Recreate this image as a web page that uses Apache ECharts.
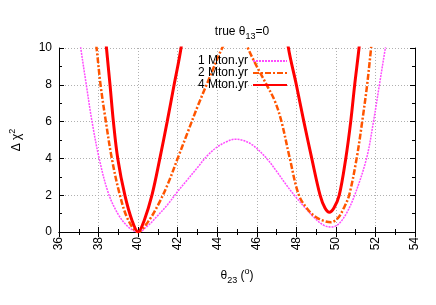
<!DOCTYPE html>
<html>
<head>
<meta charset="utf-8">
<script src="https://cdn.jsdelivr.net/npm/echarts@6/dist/echarts.min.js"></script>
<style>html,body{margin:0;padding:0;background:#fff}#c{width:436px;height:305px}</style>
</head>
<body>
<div id="c"></div>
<script>
// ---- data ----
var xTicks = [36, 38, 40, 42, 44, 46, 48, 50, 52, 54];
var yTicks = [0, 2, 4, 6, 8, 10];
var seriesNames = ['1 Mton.yr', '2 Mton.yr', '4 Mton.yr'];

var theta1 = [36.95, 37.1, 37.38, 37.67, 38.03, 38.5, 39.0, 39.5, 40.0, 40.5, 41.0, 41.5, 42.0, 42.5, 43.0, 43.5, 44.0, 44.5, 44.9, 45.3, 45.8, 46.5, 47.0, 47.5, 47.9, 48.5, 49.0, 49.4, 49.75, 50.1, 50.5, 50.95, 51.55, 51.9, 52.2, 52.5, 52.65];
var chi1   = [11.2, 10.0, 8.0, 6.0, 4.0, 2.1, 0.95, 0.28, 0.0, 0.35, 0.9, 1.5, 2.2, 2.85, 3.5, 4.15, 4.62, 4.92, 5.04, 4.98, 4.72, 4.0, 3.3, 2.55, 2.0, 1.25, 0.68, 0.36, 0.27, 0.4, 0.95, 2.0, 4.0, 6.0, 8.0, 10.0, 11.0];

var theta2 = [37.8, 37.9, 38.1, 38.37, 38.67, 39.08, 39.5, 40.0, 40.5, 41.0, 41.5, 42.0, 42.5, 43.0, 43.5, 44.25, 44.6, 45.0, 45.4, 45.55, 46.0, 46.5, 46.92, 47.25, 47.67, 48.13, 48.6, 49.0, 49.4, 49.75, 50.1, 50.4, 50.67, 51.05, 51.33, 51.58, 51.78, 51.88];
var chi2   = [10.8, 10.0, 8.0, 6.0, 4.0, 2.0, 0.65, 0.0, 0.55, 1.45, 2.6, 4.0, 5.4, 6.8, 8.1, 10.0, 10.6, 10.85, 10.5, 10.0, 9.0, 8.0, 7.1, 6.0, 4.0, 2.0, 1.2, 0.8, 0.6, 0.53, 0.75, 1.3, 2.0, 4.0, 6.0, 8.0, 10.0, 11.0];

var theta4a = [38.33, 38.4, 38.58, 38.75, 38.97, 39.33, 39.7, 40.0, 40.3, 40.7, 41.1, 41.47, 41.82, 42.17, 42.25];
var chi4a   = [11.0, 10.0, 8.0, 6.0, 4.0, 2.0, 0.6, 0.0, 0.6, 2.0, 4.0, 6.0, 8.0, 10.0, 11.0];
var theta4b = [47.52, 47.6, 48.0, 48.38, 48.78, 49.2, 49.45, 49.67, 49.9, 50.17, 50.5, 50.75, 50.95, 51.17, 51.25];
var chi4b   = [11.0, 10.0, 8.0, 6.0, 4.0, 2.0, 1.3, 1.07, 1.3, 2.0, 4.0, 6.0, 8.0, 10.0, 11.0];

function pairs(xs, ys) { return xs.map(function (x, i) { return [x, ys[i]]; }); }
var data4 = pairs(theta4a, chi4a).concat([[45, 30]]).concat(pairs(theta4b, chi4b));

var FONT = 'Liberation Sans, Arial, sans-serif';
var chart = echarts.init(document.getElementById('c'), null, {renderer: 'canvas'});

var gridLine = {show: true, lineStyle: {color: '#b0b0b0', width: 1, type: [1, 2]}};
function rich(size) {
  return {
    a: {fontFamily: FONT, fontSize: size, fontWeight: 'normal', color: '#000', lineHeight: 18},
    s: {fontFamily: FONT, fontSize: 9, fontWeight: 'normal', color: '#000', lineHeight: 9, verticalAlign: 'bottom'},
    p: {fontFamily: FONT, fontSize: 9, fontWeight: 'normal', color: '#000', lineHeight: 9, verticalAlign: 'top'}
  };
}
var option = {
  backgroundColor: '#fff',
  animation: false,
  title: {
    text: '{a|true θ}{s|13}{a|=0}',
    left: 242, top: 23, textAlign: 'center', padding: 0,
    textStyle: {fontWeight: 'normal', rich: rich(12)}
  },
  legend: {
    orient: 'vertical', right: 148, top: 55, align: 'right', padding: 0,
    itemWidth: 34, itemHeight: 10, itemGap: 0,
    itemStyle: {opacity: 0},
    textStyle: {fontFamily: FONT, fontSize: 12, lineHeight: 11.5, color: '#000'},
    data: seriesNames
  },
  grid: {left: 55, right: 21, top: 48, bottom: 73, containLabel: false},
  xAxis: [{
    type: 'value', min: xTicks[0], max: xTicks[xTicks.length - 1], interval: 2,
    position: 'bottom',
    axisLine: {show: true, onZero: false, lineStyle: {color: '#000', width: 1}},
    axisTick: {show: true, inside: true, length: 5, lineStyle: {color: '#000'}},
    minorTick: {show: true, splitNumber: 2, length: 3, lineStyle: {color: '#000'}},
    axisLabel: {rotate: 90, fontFamily: FONT, fontSize: 12, color: '#000', margin: 5},
    splitLine: gridLine,
    name: '{a|θ}{s|23}{a| (}{p|o}{a|)}',
    nameLocation: 'middle', nameGap: 35,
    nameTextStyle: {rich: rich(12)}
  }, {
    type: 'value', min: xTicks[0], max: xTicks[xTicks.length - 1], interval: 2,
    position: 'top',
    axisLine: {show: true, lineStyle: {color: '#000', width: 1}},
    axisTick: {show: true, inside: true, length: 5, lineStyle: {color: '#000'}},
    minorTick: {show: true, splitNumber: 2, length: 3, lineStyle: {color: '#000'}},
    axisLabel: {show: false}, splitLine: {show: false}
  }],
  yAxis: [{
    type: 'value', min: yTicks[0], max: yTicks[yTicks.length - 1], interval: 2,
    position: 'left',
    axisLine: {show: true, onZero: false, lineStyle: {color: '#000', width: 1}},
    axisTick: {show: true, inside: true, length: 5, lineStyle: {color: '#000'}},
    minorTick: {show: true, splitNumber: 2, length: 3, lineStyle: {color: '#000'}},
    axisLabel: {fontFamily: FONT, fontSize: 12, color: '#000', margin: 7},
    splitLine: gridLine,
    name: '{a|Δ χ}{p|2}',
    nameLocation: 'middle', nameRotate: 90, nameGap: 33,
    nameTextStyle: {rich: rich(12)}
  }, {
    type: 'value', min: yTicks[0], max: yTicks[yTicks.length - 1], interval: 2,
    position: 'right',
    axisLine: {show: true, lineStyle: {color: '#000', width: 1}},
    axisTick: {show: true, inside: true, length: 5, lineStyle: {color: '#000'}},
    minorTick: {show: true, splitNumber: 2, length: 3, lineStyle: {color: '#000'}},
    axisLabel: {show: false}, splitLine: {show: false}
  }],
  series: [{
    name: seriesNames[0], type: 'line', data: pairs(theta1, chi1),
    smooth: 0.35, symbol: 'none', clip: true,
    lineStyle: {color: '#ff4cff', width: 1.5, type: [2, 1]},
    itemStyle: {color: '#ff4cff'}
  }, {
    name: seriesNames[1], type: 'line', data: pairs(theta2, chi2),
    smooth: 0.35, symbol: 'none', clip: true,
    lineStyle: {color: '#ff5500', width: 2.5, type: [6, 2, 2, 2]},
    itemStyle: {color: '#ff5500'}
  }, {
    name: seriesNames[2], type: 'line', data: data4,
    smooth: 0.35, symbol: 'none', clip: true,
    lineStyle: {color: '#ff0000', width: 3},
    itemStyle: {color: '#ff0000'}
  }]
};
chart.setOption(option);
</script>
</body>
</html>
